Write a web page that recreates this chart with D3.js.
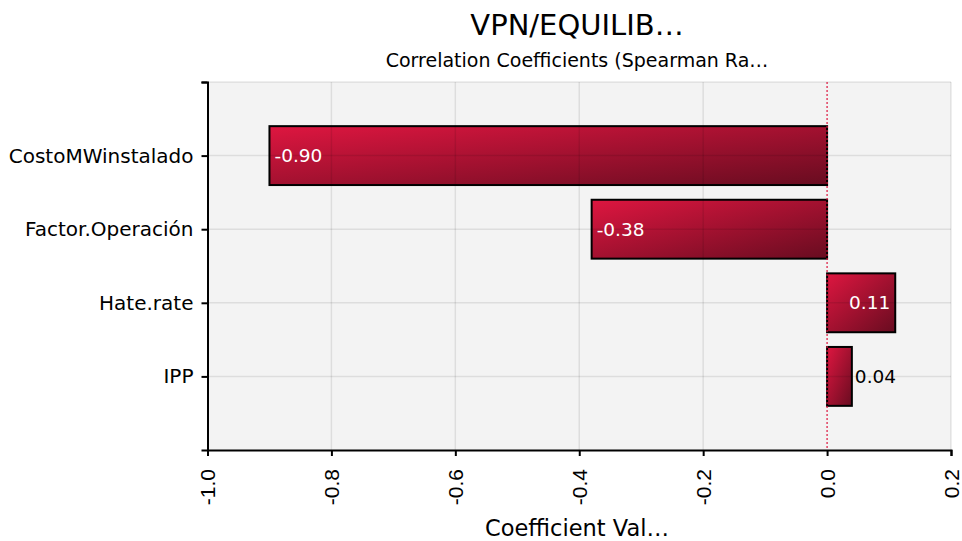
<!DOCTYPE html>
<html><head><meta charset="utf-8">
<script src="https://cdn.jsdelivr.net/npm/d3@7"></script>
<style>body{margin:0;background:#fff}svg{display:block}</style>
</head><body>
<script>
const categories = ["CostoMWinstalado", "Factor.Operación", "Hate.rate", "IPP"];
const values = [-0.90, -0.38, 0.11, 0.04];
const labels = ["-0.90", "-0.38", "0.11", "0.04"];
const xTicks = [-1.0, -0.8, -0.6, -0.4, -0.2, 0.0, 0.2];
const xTickLabels = ["-1.0", "-0.8", "-0.6", "-0.4", "-0.2", "0.0", "0.2"];
const titleText = "VPN/EQUILIB…";
const subtitleText = "Correlation Coefficients (Spearman Ra…";
const xLabelText = "Coefficient Val…";

(function () {
const W = 962, H = 541;
const pL = 207.5, pR = 951, pT = 82, pB = 450;
const font = "'DejaVu Sans', Tahoma, sans-serif";

const svg = d3.select("body").append("svg").attr("width", W).attr("height", H);

const x = d3.scaleLinear().domain([-1.0, 0.2]).range([pL, pR]);
const y = d3.scaleLinear().domain([0, categories.length + 1]).range([pT, pB]);
const bandH = (y(1) - y(0)) * 0.8;

const defs = svg.append("defs");
const grad = defs.append("linearGradient").attr("id", "barGrad")
  .attr("x1", 0).attr("y1", 0).attr("x2", 1).attr("y2", 1);
grad.append("stop").attr("offset", "0%").attr("stop-color", "#de1640");
grad.append("stop").attr("offset", "100%").attr("stop-color", "#680c20");

svg.append("rect").attr("x", pL).attr("y", pT).attr("width", pR - pL).attr("height", pB - pT)
  .attr("fill", "#f3f3f3");

svg.selectAll("rect.bar").data(values).join("rect").attr("class", "bar")
  .attr("x", d => x(Math.min(0, d)))
  .attr("width", d => Math.abs(x(d) - x(0)))
  .attr("y", (d, i) => y(i + 1) - bandH / 2)
  .attr("height", bandH)
  .attr("fill", "url(#barGrad)")
  .attr("stroke", "#000").attr("stroke-width", 2);

const grid = svg.append("g");
grid.selectAll("line.gx").data(xTicks.filter(t => t !== -1.0 && t !== 0)).join("line")
  .attr("x1", d => x(d)).attr("x2", d => x(d)).attr("y1", pT).attr("y2", pB)
  .attr("stroke", "rgba(0,0,0,0.09)").attr("stroke-width", 1.5);
grid.selectAll("line.gy").data(categories).join("line")
  .attr("x1", pL).attr("x2", pR).attr("y1", (d, i) => y(i + 1)).attr("y2", (d, i) => y(i + 1))
  .attr("stroke", "rgba(0,0,0,0.09)").attr("stroke-width", 1.5);
grid.append("line").attr("x1", pL).attr("x2", pR).attr("y1", pT).attr("y2", pT)
  .attr("stroke", "rgba(0,0,0,0.09)").attr("stroke-width", 1.5);

svg.append("line").attr("x1", x(0)).attr("x2", x(0)).attr("y1", pT).attr("y2", pB)
  .attr("stroke", "#dc143c").attr("stroke-width", 1.2).attr("stroke-dasharray", "2,2");

svg.selectAll("text.val").data(values).join("text").attr("class", "val")
  .attr("x", (d, i) => {
    if (d < 0) return x(d) + 5;
    if (i === 2) return x(d) - 5;
    return x(d) + 3;
  })
  .attr("y", (d, i) => y(i + 1))
  .attr("dy", "0.35em")
  .attr("text-anchor", (d, i) => (d < 0 || i === 3) ? "start" : "end")
  .attr("fill", (d, i) => i === 3 ? "#000" : "#fff")
  .attr("font-family", font).attr("font-size", 18.5)
  .text((d, i) => labels[i]);

const xAxis = svg.append("g").attr("transform", `translate(0,${pB})`)
  .call(d3.axisBottom(x).tickValues(xTicks).tickSize(6).tickFormat((d, i) => xTickLabels[i]));
xAxis.select(".domain").attr("stroke-width", 2);
xAxis.selectAll(".tick line").attr("stroke-width", 2);
xAxis.selectAll("text")
  .attr("font-family", "'Liberation Sans', Arial, sans-serif").attr("font-size", 21).attr("fill", "#000")
  .attr("transform", "rotate(-90)")
  .attr("text-anchor", "end").attr("x", -19).attr("y", 0).attr("dy", "0.35em");

const yAxis = svg.append("g").attr("transform", `translate(${pL},0)`)
  .call(d3.axisLeft(y).tickValues([0, 1, 2, 3, 4]).tickSize(6).tickFormat(d => d === 0 ? "" : categories[d - 1]));
yAxis.select(".domain").attr("stroke-width", 2);
yAxis.selectAll(".tick line").attr("stroke-width", 2);
yAxis.selectAll("text").attr("font-family", font).attr("font-size", 20).attr("fill", "#000").attr("x", -14);

svg.append("text").attr("x", 577).attr("y", 35).attr("text-anchor", "middle")
  .attr("font-family", font).attr("font-size", 29).attr("fill", "#000").text(titleText);
svg.append("text").attr("x", 577).attr("y", 67).attr("text-anchor", "middle")
  .attr("font-family", font).attr("font-size", 19).attr("fill", "#000").text(subtitleText);
svg.append("text").attr("x", 577).attr("y", 536).attr("text-anchor", "middle")
  .attr("font-family", font).attr("font-size", 22.5).attr("fill", "#000").text(xLabelText);
})();
</script>
</body></html>
